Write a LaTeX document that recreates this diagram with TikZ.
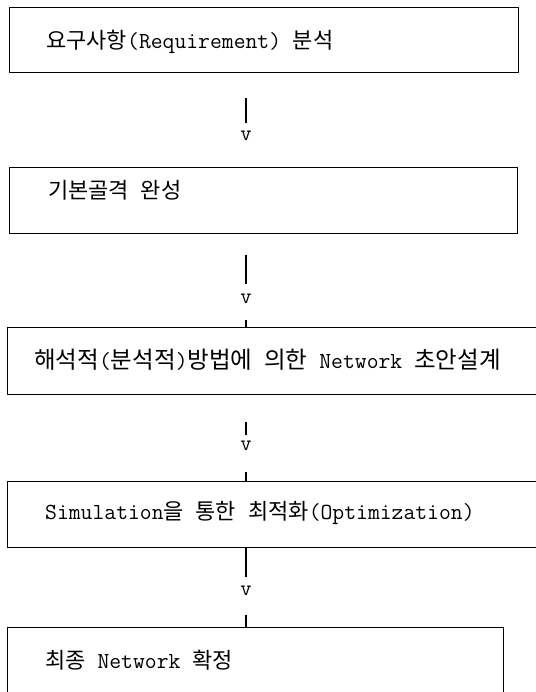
\documentclass[tikz,border=0pt]{standalone}
\usepackage{fontspec}
\newfontfamily\krfont{Noto Sans CJK KR}
\newcommand\hk[1]{{\krfont\fontsize{22}{24}\selectfont #1}}
\newcommand\hkw[1]{{\krfont\fontsize{23.5}{25}\selectfont #1}}
\begin{document}
\begin{tikzpicture}[x=1pt,y=1pt,
  box/.style={draw=black, line width=1.3pt, anchor=north west, inner sep=0pt},
  lbl/.style={anchor=west, inner sep=0pt, font=\ttfamily\fontsize{23}{25}\selectfont},
  vmark/.style={inner sep=0pt, font=\ttfamily\fontsize{22}{24}\selectfont},
  conn/.style={draw=black, line width=1.2pt}]
\useasboundingbox (0,0) rectangle (535,-692);
\fill[white] (0,0) rectangle (535,-692);
% boxes
\node[box, minimum width=509pt, minimum height=65pt] (b1) at (9,-7) {};
\node[box, minimum width=508pt, minimum height=66pt] (b2) at (9,-167) {};
\node[box, minimum width=540pt, minimum height=67pt] (b3) at (7,-327) {};
\node[box, minimum width=540pt, minimum height=66pt] (b4) at (7,-481) {};
\node[box, minimum width=496pt, minimum height=75pt] (b5) at (7,-627) {};
% texts
\node[lbl] (t1) at (46,-42) {\hk{요구사항}(Requirement) \hk{분석}};
\node[lbl] (t2) at (48,-190) {\hk{기본골격} \hk{완성}};
\node[lbl] (t3) at (34,-360) {\hkw{해석적}(\hkw{분석적})\hkw{방법에} \hkw{의한} Network \hkw{초안설계}};
\node[lbl] (t4) at (45,-513) {Simulation\hk{을} \hk{통한} \hk{최적화}(Optimization)};
\node[lbl] (t5) at (45,-660) {\hk{최종} Network \hk{확정}};
% connectors
\node[vmark] (v1) at (246,-136) {v};
\node[vmark] (v2) at (246,-299) {v};
\node[vmark] (v3) at (246,-446) {v};
\node[vmark] (v4) at (246,-591) {v};
\coordinate (s1) at (246,-98);
\coordinate (e1) at (246,-123);
\coordinate (s2) at (246,-255);
\coordinate (e2) at (246,-284);
\coordinate (k2) at (246,-320);
\coordinate (s3) at (246,-422);
\coordinate (e3) at (246,-435);
\coordinate (k3) at (246,-472);
\coordinate (e4) at (246,-577);
\coordinate (k4) at (246,-615);
\draw[conn] (s1) -- (e1);
\draw[conn] (s2) -- (e2);
\draw[conn] (k2) -- (k2 |- b3.north);
\draw[conn] (s3) -- (e3);
\draw[conn] (k3) -- (k3 |- b4.north);
\draw[conn] (e4 |- b4.south) -- (e4);
\draw[conn] (k4) -- (k4 |- b5.north);
\end{tikzpicture}
\end{document}
